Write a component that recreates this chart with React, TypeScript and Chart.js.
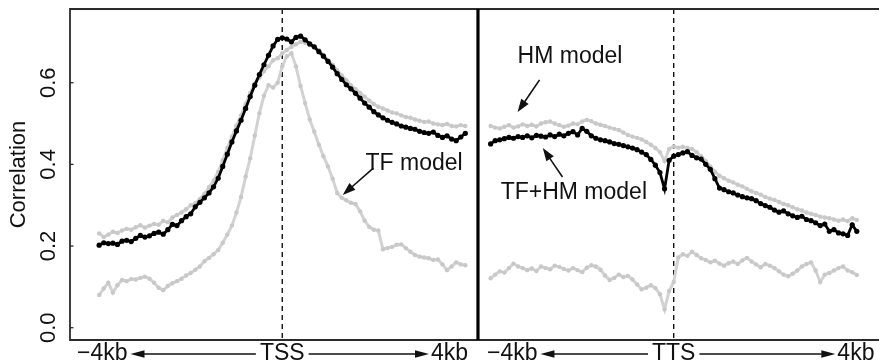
import React, { useEffect, useRef } from "react";
import { Chart, registerables } from "chart.js";

Chart.register(...registerables);

const FONT = '"Liberation Sans", Arial, Helvetica, sans-serif';

// Bin centres in kb around the landmark (100 bp bins, -4 kb .. +4 kb)
const BIN_KB: number[] = Array.from({ length: 81 }, (_, i) => (i - 40) / 10);

// Correlation around the transcription start site
const TSS_TFHM = [
  0.202, 0.208, 0.206, 0.207, 0.204, 0.212, 0.214, 0.211, 0.219, 0.226,
  0.222, 0.225, 0.231, 0.234, 0.229, 0.240, 0.253, 0.250, 0.262, 0.272,
  0.279, 0.296, 0.307, 0.318, 0.330, 0.345, 0.366, 0.395, 0.425, 0.455,
  0.482, 0.508, 0.537, 0.566, 0.594, 0.620, 0.644, 0.667, 0.690, 0.706,
  0.710, 0.707, 0.700, 0.711, 0.714, 0.705, 0.695, 0.688, 0.676, 0.665,
  0.652, 0.638, 0.622, 0.608, 0.595, 0.585, 0.574, 0.562, 0.550, 0.540,
  0.529, 0.521, 0.514, 0.508, 0.503, 0.499, 0.494, 0.491, 0.488, 0.486,
  0.481, 0.478, 0.476, 0.479, 0.471, 0.466, 0.470, 0.462, 0.458, 0.467,
  0.476,
];
const TSS_HM = [
  0.231, 0.222, 0.228, 0.235, 0.232, 0.238, 0.242, 0.240, 0.246, 0.251,
  0.245, 0.250, 0.254, 0.252, 0.262, 0.258, 0.270, 0.276, 0.282, 0.290,
  0.300, 0.305, 0.315, 0.328, 0.344, 0.360, 0.382, 0.410, 0.440, 0.468,
  0.495, 0.520, 0.548, 0.575, 0.598, 0.612, 0.628, 0.640, 0.655, 0.660,
  0.672, 0.680, 0.688, 0.694, 0.700, 0.698, 0.692, 0.686, 0.680, 0.668,
  0.655, 0.644, 0.630, 0.618, 0.606, 0.594, 0.584, 0.575, 0.566, 0.556,
  0.548, 0.541, 0.537, 0.532, 0.527, 0.525, 0.520, 0.516, 0.514, 0.510,
  0.507, 0.504, 0.505, 0.500, 0.498, 0.496, 0.499, 0.494, 0.493, 0.496,
  0.494,
];
const TSS_TF = [
  0.080, 0.096, 0.110, 0.086, 0.104, 0.117, 0.114, 0.119, 0.118, 0.122,
  0.125, 0.120, 0.110, 0.098, 0.092, 0.102, 0.109, 0.114, 0.120, 0.128,
  0.134, 0.142, 0.150, 0.163, 0.171, 0.180, 0.190, 0.208, 0.228, 0.250,
  0.282, 0.320, 0.370, 0.415, 0.470, 0.525, 0.568, 0.594, 0.588, 0.600,
  0.640, 0.665, 0.672, 0.640, 0.592, 0.550, 0.510, 0.480, 0.448, 0.420,
  0.395, 0.365, 0.330, 0.318, 0.312, 0.306, 0.303, 0.285, 0.262, 0.247,
  0.240, 0.238, 0.192, 0.195, 0.198, 0.203, 0.204, 0.195, 0.186, 0.178,
  0.174, 0.172, 0.170, 0.166, 0.167, 0.155, 0.141, 0.150, 0.160, 0.155,
  0.153,
];

// Correlation around the transcription termination site
const TTS_TFHM = [
  0.450, 0.458, 0.460, 0.463, 0.466, 0.464, 0.468, 0.466, 0.470, 0.465,
  0.471, 0.469, 0.467, 0.472, 0.468, 0.474, 0.470, 0.476, 0.480, 0.472,
  0.488, 0.481, 0.470, 0.464, 0.460, 0.458, 0.455, 0.451, 0.449, 0.446,
  0.443, 0.440, 0.436, 0.430, 0.424, 0.412, 0.398, 0.380, 0.340, 0.410,
  0.420, 0.424, 0.428, 0.431, 0.422, 0.416, 0.413, 0.400, 0.388, 0.365,
  0.342, 0.338, 0.333, 0.330, 0.325, 0.321, 0.318, 0.316, 0.311, 0.304,
  0.299, 0.295, 0.288, 0.283, 0.286, 0.279, 0.274, 0.270, 0.273, 0.265,
  0.262, 0.257, 0.250, 0.254, 0.236, 0.240, 0.232, 0.230, 0.226, 0.252,
  0.236,
];
const TTS_HM = [
  0.494, 0.490, 0.488, 0.492, 0.496, 0.490, 0.493, 0.498, 0.494, 0.497,
  0.493, 0.500, 0.503, 0.505, 0.500, 0.496, 0.492, 0.495, 0.500, 0.498,
  0.505, 0.509, 0.506, 0.500, 0.497, 0.494, 0.490, 0.487, 0.484, 0.478,
  0.472, 0.468, 0.465, 0.461, 0.455, 0.448, 0.440, 0.430, 0.408, 0.438,
  0.444, 0.441, 0.443, 0.440, 0.438, 0.430, 0.420, 0.408, 0.395, 0.382,
  0.372, 0.366, 0.360, 0.356, 0.350, 0.346, 0.340, 0.334, 0.330, 0.326,
  0.320, 0.316, 0.313, 0.308, 0.303, 0.300, 0.295, 0.290, 0.287, 0.282,
  0.279, 0.276, 0.272, 0.270, 0.268, 0.265, 0.262, 0.265, 0.261, 0.268,
  0.264,
];
const TTS_TF = [
  0.121, 0.130, 0.138, 0.135, 0.146, 0.157, 0.150, 0.146, 0.141, 0.145,
  0.139, 0.150, 0.146, 0.143, 0.152, 0.149, 0.144, 0.140, 0.146, 0.141,
  0.136, 0.147, 0.153, 0.150, 0.142, 0.128, 0.117, 0.122, 0.130, 0.124,
  0.127, 0.118, 0.106, 0.094, 0.098, 0.104, 0.097, 0.082, 0.045, 0.090,
  0.112, 0.172, 0.180, 0.176, 0.186, 0.178, 0.170, 0.166, 0.160, 0.164,
  0.157, 0.152, 0.158, 0.162, 0.156, 0.165, 0.171, 0.162, 0.155, 0.148,
  0.156, 0.152, 0.146, 0.138, 0.130, 0.126, 0.132, 0.140, 0.150, 0.156,
  0.160, 0.140, 0.112, 0.130, 0.134, 0.140, 0.146, 0.150, 0.140, 0.136,
  0.129,
];

const Y_TICKS = [0, 0.2, 0.4, 0.6];
const Y_TICK_LABELS = ["0.0", "0.2", "0.4", "0.6"];
const Y_TITLE = "Correlation";

// Both panels share one kb axis; the TTS panel is shifted right
const TTS_SHIFT_KB = 8.552;
const DIVIDER_KB = 4.276;
const X_MIN = -4.637;
const X_MAX = 13.037;
const Y_MIN = -0.0301;
const Y_MAX = 0.7805;

type Panel = {
  name: string;
  shift: number;
  leftLabelKb: number; // left edge of the "−4kb" label
  rightLabelKb: number; // right edge of the "4kb" label
};
const PANELS: Panel[] = [
  { name: "TSS", shift: 0, leftLabelKb: -4.485, rightLabelKb: 4.06 },
  { name: "TTS", shift: TTS_SHIFT_KB, leftLabelKb: -4.08, rightLabelKb: 4.385 },
];

type Note = {
  text: string;
  panel: number;
  at: [number, number];
  tail: [number, number];
  tip: [number, number];
};
const NOTES: Note[] = [
  { text: "HM model", panel: 1, at: [-3.41, 0.665], tail: [-2.93, 0.607], tip: [-3.41, 0.528] },
  { text: "TF model", panel: 0, at: [1.82, 0.401], tail: [1.99, 0.391], tip: [1.32, 0.325] },
  { text: "TF+HM model", panel: 1, at: [-3.78, 0.33], tail: [-2.43, 0.369], tip: [-2.86, 0.44] },
];

function filledArrow(
  ctx: CanvasRenderingContext2D,
  x1: number,
  y1: number,
  x2: number,
  y2: number,
  len: number,
  half: number
) {
  const a = Math.atan2(y2 - y1, x2 - x1);
  const bx = x2 - len * Math.cos(a);
  const by = y2 - len * Math.sin(a);
  ctx.beginPath();
  ctx.moveTo(x1, y1);
  ctx.lineTo(bx + 0.5 * Math.cos(a), by + 0.5 * Math.sin(a));
  ctx.stroke();
  ctx.beginPath();
  ctx.moveTo(x2, y2);
  ctx.lineTo(bx + half * Math.sin(a), by - half * Math.cos(a));
  ctx.lineTo(bx - half * Math.sin(a), by + half * Math.cos(a));
  ctx.closePath();
  ctx.fill();
}

const decorations = {
  id: "decorations",
  beforeDatasetsDraw(chart: any) {
    const { ctx, chartArea, scales } = chart;
    const xs = scales.x;
    ctx.save();
    ctx.strokeStyle = "#111";
    ctx.lineWidth = 1.4;
    ctx.setLineDash([5, 4]);
    for (const p of PANELS) {
      const x = xs.getPixelForValue(p.shift);
      ctx.beginPath();
      ctx.moveTo(x, chartArea.top);
      ctx.lineTo(x, chartArea.bottom);
      ctx.stroke();
    }
    ctx.restore();
  },
  afterDatasetsDraw(chart: any) {
    const { ctx, chartArea, scales } = chart;
    const xs = scales.x;
    const ys = scales.y;
    const { left, top, right, bottom } = chartArea;
    ctx.save();

    // box (open on the right, where the page ends)
    ctx.strokeStyle = "#2a2a2a";
    ctx.lineWidth = 1.8;
    ctx.beginPath();
    ctx.moveTo(right, top);
    ctx.lineTo(left, top);
    ctx.lineTo(left, bottom);
    ctx.lineTo(right, bottom);
    ctx.stroke();

    // divider between the two panels
    const dx = xs.getPixelForValue(DIVIDER_KB);
    ctx.strokeStyle = "#000";
    ctx.lineWidth = 3.2;
    ctx.beginPath();
    ctx.moveTo(dx, top);
    ctx.lineTo(dx, bottom);
    ctx.stroke();

    // y ticks and rotated labels
    ctx.strokeStyle = "#2a2a2a";
    ctx.lineWidth = 1.3;
    ctx.fillStyle = "#111";
    ctx.font = `22px ${FONT}`;
    ctx.textAlign = "center";
    ctx.textBaseline = "alphabetic";
    Y_TICKS.forEach((v, i) => {
      const y = ys.getPixelForValue(v);
      ctx.beginPath();
      ctx.moveTo(left, y);
      ctx.lineTo(left + 3.5, y);
      ctx.stroke();
      ctx.save();
      ctx.translate(55, y);
      ctx.rotate(-Math.PI / 2);
      ctx.fillText(Y_TICK_LABELS[i], 0, 0);
      ctx.restore();
    });

    // y title
    ctx.save();
    ctx.font = `22px ${FONT}`;
    ctx.translate(25, (top + bottom) / 2);
    ctx.rotate(-Math.PI / 2);
    ctx.fillText(Y_TITLE, 0, 0);
    ctx.restore();

    // bottom labels with arrows
    ctx.font = `23px ${FONT}`;
    ctx.fillStyle = "#111";
    ctx.strokeStyle = "#111";
    ctx.lineWidth = 1.5;
    const baseY = 360;
    const arrowY = 354;
    for (const p of PANELS) {
      const lx = xs.getPixelForValue(p.shift + p.leftLabelKb);
      const rx = xs.getPixelForValue(p.shift + p.rightLabelKb);
      const cx = xs.getPixelForValue(p.shift);
      const minus = "\u22124kb";
      const plus = "4kb";
      ctx.textAlign = "left";
      ctx.fillText(minus, lx, baseY);
      ctx.textAlign = "right";
      ctx.fillText(plus, rx, baseY);
      ctx.textAlign = "center";
      ctx.fillText(p.name, cx, baseY);
      const lw = ctx.measureText(minus).width;
      const rw = ctx.measureText(plus).width;
      const cw = ctx.measureText(p.name).width;
      filledArrow(ctx, cx - cw / 2 - 4, arrowY, lx + lw + 3, arrowY, 14, 3.8);
      filledArrow(ctx, cx + cw / 2 + 4, arrowY, rx - rw - 2, arrowY, 14, 3.8);
    }

    // model annotations
    ctx.font = `23px ${FONT}`;
    ctx.textAlign = "left";
    ctx.textBaseline = "middle";
    ctx.lineWidth = 1.6;
    for (const n of NOTES) {
      const s = PANELS[n.panel].shift;
      ctx.fillText(n.text, xs.getPixelForValue(s + n.at[0]), ys.getPixelForValue(n.at[1]));
      filledArrow(
        ctx,
        xs.getPixelForValue(s + n.tail[0]),
        ys.getPixelForValue(n.tail[1]),
        xs.getPixelForValue(s + n.tip[0]),
        ys.getPixelForValue(n.tip[1]),
        13,
        4.5
      );
    }
    ctx.restore();
  },
};

function series(values: number[], shift: number) {
  return BIN_KB.map((kb, i) => ({ x: kb + shift, y: values[i] }));
}

const BLACK = {
  borderColor: "#000",
  backgroundColor: "#000",
  pointBackgroundColor: "#000",
  borderWidth: 2.8,
  pointRadius: 2.6,
  pointBorderWidth: 0,
};
const GRAY = {
  borderColor: "#d2d2d2",
  backgroundColor: "#c8c8c8",
  pointBackgroundColor: "#c8c8c8",
  borderWidth: 3,
  pointRadius: 2.2,
  pointBorderWidth: 0,
};

export default function App() {
  const ref = useRef<HTMLCanvasElement | null>(null);

  useEffect(() => {
    if (!ref.current) return;
    const chart = new Chart(ref.current, {
      type: "line",
      data: {
        datasets: [
          { label: "TF+HM model (TSS)", data: series(TSS_TFHM, 0), ...BLACK },
          { label: "TF+HM model (TTS)", data: series(TTS_TFHM, TTS_SHIFT_KB), ...BLACK },
          { label: "HM model (TSS)", data: series(TSS_HM, 0), ...GRAY },
          { label: "HM model (TTS)", data: series(TTS_HM, TTS_SHIFT_KB), ...GRAY },
          { label: "TF model (TSS)", data: series(TSS_TF, 0), ...GRAY },
          { label: "TF model (TTS)", data: series(TTS_TF, TTS_SHIFT_KB), ...GRAY },
        ],
      },
      options: {
        animation: false,
        responsive: false,
        devicePixelRatio: 1,
        layout: { padding: { left: 70, top: 9, right: 0, bottom: 23 } },
        plugins: { legend: { display: false }, tooltip: { enabled: false } },
        events: [],
        scales: {
          x: { type: "linear", min: X_MIN, max: X_MAX, display: false },
          y: { type: "linear", min: Y_MIN, max: Y_MAX, display: false },
        },
      },
      plugins: [decorations],
    });
    return () => chart.destroy();
  }, []);

  return (
    <div style={{ position: "absolute", left: 0, top: 0, width: 883, height: 363, background: "#fff" }}>
      <canvas ref={ref} width={883} height={363} style={{ display: "block" }} />
    </div>
  );
}
